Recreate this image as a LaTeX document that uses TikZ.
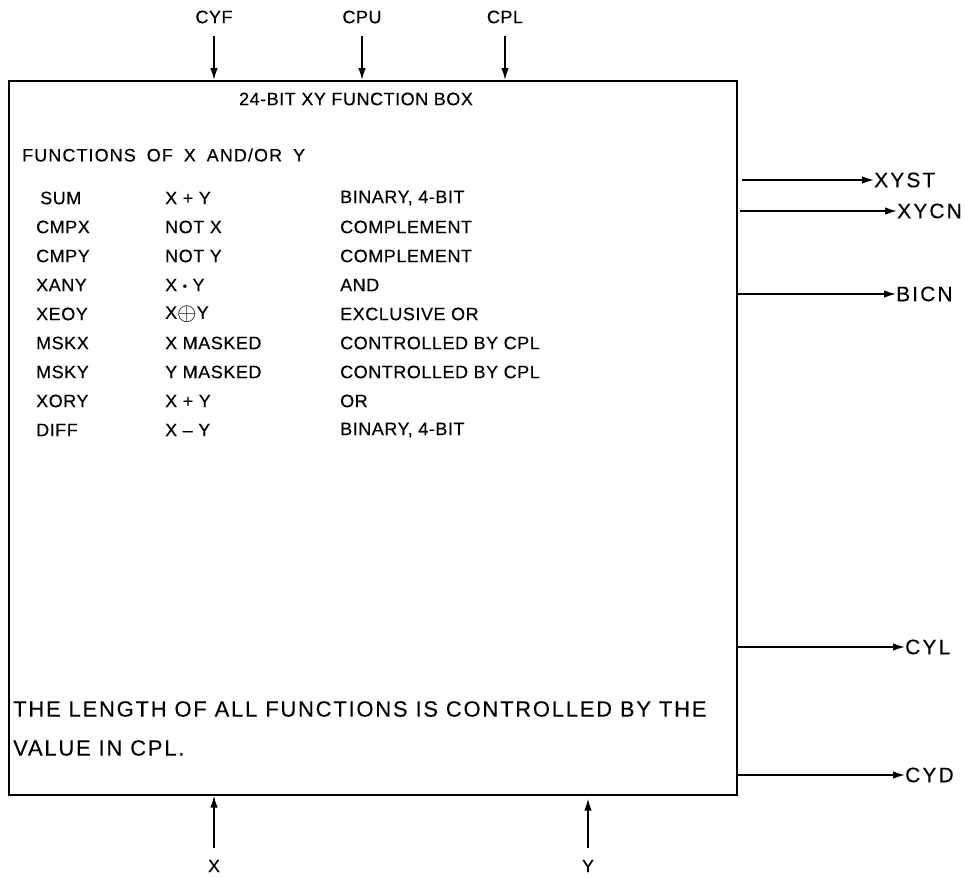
\documentclass[tikz,border=0pt]{standalone}
\usepackage{graphicx}
\usepackage{fontspec}
\setmainfont{Liberation Sans}[LetterSpace=3,FakeBold=0.3]
\newfontfamily\notefont{Liberation Sans}[LetterSpace=8,FakeBold=0.1]
\newfontfamily\widefont{Liberation Sans}[LetterSpace=10,FakeBold=0.2]
\newfontfamily\headfont{Liberation Sans}[LetterSpace=6,WordSpace=1.8,FakeBold=0.3]
\usetikzlibrary{arrows.meta}
\tikzset{
  sig/.style={line width=1.5pt,-{Latex[length=12pt,width=7.5pt]}},
  lbl/.style={inner sep=0pt,font=\fontsize{18}{18}\selectfont},
  rlbl/.style={inner sep=0pt,anchor=west,font=\widefont\fontsize{21}{21}\selectfont},
  txt/.style={inner sep=0pt,anchor=west,font=\fontsize{18}{18}\selectfont},
  note/.style={inner sep=0pt,anchor=west,font=\notefont\fontsize{22}{22}\selectfont},
  fbox/.style={draw,line width=1.6pt,inner sep=0pt}
}
\begin{document}
\begin{tikzpicture}[x=1pt,y=-1pt]
\useasboundingbox (0,0) rectangle (965,878);
% main box
\node[fbox,minimum width=728pt,minimum height=714pt,anchor=north west] (box) at (8,80) {};
% top inputs
\node[lbl] (cyf) at (214,17) {CYF};
\node[lbl] (cpu) at (362,17) {CPU};
\node[lbl] (cpl) at (505,17) {CPL};
\coordinate (cyfs) at (214,36);
\coordinate (cpus) at (362,36);
\coordinate (cpls) at (505,36);
\draw[sig] (cyfs) -- (cyfs |- box.north);
\draw[sig] (cpus) -- (cpus |- box.north);
\draw[sig] (cpls) -- (cpls |- box.north);
% title
\node[lbl] (title) at (356,99) {24-BIT XY FUNCTION BOX};
\node[txt,font=\headfont\fontsize{18}{18}\selectfont] (fn) at (22,155) {FUNCTIONS OF X AND/OR Y};
% table
\foreach \i/\a/\b/\c/\o in {
  0/SUM/X + Y/{BINARY, 4-BIT}/40,
  1/CMPX/NOT X/COMPLEMENT/36,
  2/CMPY/NOT Y/COMPLEMENT/36,
  3/XANY/{X {\fontsize{12}{12}\selectfont\raisebox{1pt}{\textbullet}} Y}/AND/36,
  4/XEOY/{X\raisebox{-1.5pt}{\scalebox{1.45}{$\oplus$}}Y}/EXCLUSIVE OR/36,
  5/MSKX/X MASKED/CONTROLLED BY CPL/36,
  6/MSKY/Y MASKED/CONTROLLED BY CPL/36,
  7/XORY/X + Y/OR/36,
  8/DIFF/X – Y/{BINARY, 4-BIT}/36}{
  \node[txt] (a\i) at (\o,198+29*\i) {\a};
  \node[txt] (b\i) at (165,198+29*\i) {\b};
  \node[txt] (c\i) at (340,198+29*\i) {\c};
}
% note
\node[note] (n1) at (13,709) {THE LENGTH OF ALL FUNCTIONS IS CONTROLLED BY THE};
\node[note] (n2) at (13,748) {VALUE IN CPL.};
% right outputs
\node[rlbl] (xyst) at (874,180) {XYST};
\node[rlbl] (xycn) at (897,211) {XYCN};
\node[rlbl] (bicn) at (896,294) {BICN};
\node[rlbl] (cyl) at (905,647) {CYL};
\node[rlbl] (cyd) at (905,775) {CYD};
\draw[sig] ([xshift=4pt]box.east |- xyst) -- (xyst.west);
\draw[sig] ([xshift=2pt]box.east |- xycn) -- (xycn.west);
\draw[sig] (box.east |- bicn) -- (bicn.west);
\draw[sig] (box.east |- cyl) -- (cyl.west);
\draw[sig] (box.east |- cyd) -- (cyd.west);
% bottom inputs
\node[lbl] (x) at (214,866) {X};
\node[lbl] (y) at (588,866) {Y};
\coordinate (xs) at (214,848);
\coordinate (ys) at (588,848);
\draw[sig] (xs) -- (xs |- box.south);
\draw[sig] (ys) -- ([yshift=-3pt]ys |- box.south);
\end{tikzpicture}
\end{document}
